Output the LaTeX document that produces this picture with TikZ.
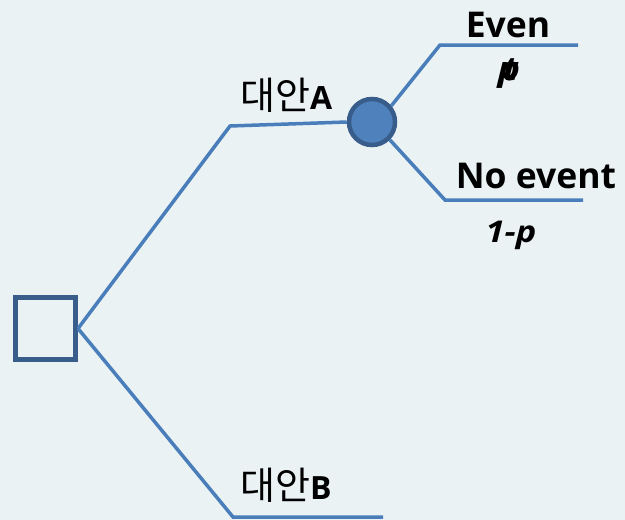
\documentclass[tikz,border=0pt]{standalone}
\usepackage{graphicx}
\usepackage{fontspec}
\setmainfont{Open Sans}
\newfontfamily\krfont{Noto Sans CJK KR}
\definecolor{bgcol}{HTML}{EAF2F4}
\definecolor{branch}{HTML}{4A7EBB}
\definecolor{nodeline}{HTML}{385D8A}
\definecolor{chancefill}{HTML}{4F81BD}
\tikzset{
  branchline/.style={draw=branch, line width=3.5pt},
  decision/.style={draw=nodeline, line width=5pt, fill=bgcol, minimum width=60pt, minimum height=62pt, inner sep=0pt},
  chance/.style={circle, draw=nodeline, line width=4.5pt, fill=chancefill, minimum size=46pt, inner sep=0pt},
  lbl/.style={inner sep=0pt, anchor=base, font=\bfseries\fontsize{35.5}{37}\selectfont},
  alt/.style={inner sep=0pt, anchor=base west},
  prob/.style={inner sep=0pt, anchor=base}
}
\newcommand\altlabel[1]{{\krfont\fontsize{38}{40}\selectfont 대안}{\bfseries\fontsize{32}{34}\selectfont #1}}
\newcommand\problabel[2]{\scalebox{1.15}[1]{\fontsize{#1}{#1}\selectfont\bfseries\itshape #2}}
\begin{document}
\begin{tikzpicture}[x=1pt, y=-1pt]
  \fill[bgcol] (0,0) rectangle (625,520);
  \useasboundingbox (0,0) rectangle (625,520);
  % decision square and chance circle
  \node[decision] (d) at (45.5,328.5) {};
  \node[chance] (c) at (372,122) {};
  % bend points and branch ends
  \coordinate (a1) at (230,126);
  \coordinate (b1) at (233,517);
  \coordinate (b2) at (383,517);
  \coordinate (e1) at (440,45);
  \coordinate (e2) at (578,45);
  \coordinate (n1) at (445,200);
  \coordinate (n2) at (583,200);
  \draw[branchline] (d.east) -- (a1) -- (c.west);
  \draw[branchline] (d.east) -- (b1) -- (b2);
  \draw[branchline] (c.40) -- (e1) -- (e2);
  \draw[branchline] (c.-45) -- (n1) -- (n2);
  % labels
  \node[alt] (la) at (240,109) {\altlabel{A}};
  \node[alt] (lb) at (240,499) {\altlabel{B}};
  \node[lbl] (ev) at (508,37) {Even};
  \node[lbl] (ne) at (536,188) {No event};
  \node[prob] (pt) at (509,80) {\problabel{33}{\rlap{\kern4pt t}p}};
  \node[prob] (q) at (511,242) {\problabel{30}{1-p}};
\end{tikzpicture}
\end{document}
